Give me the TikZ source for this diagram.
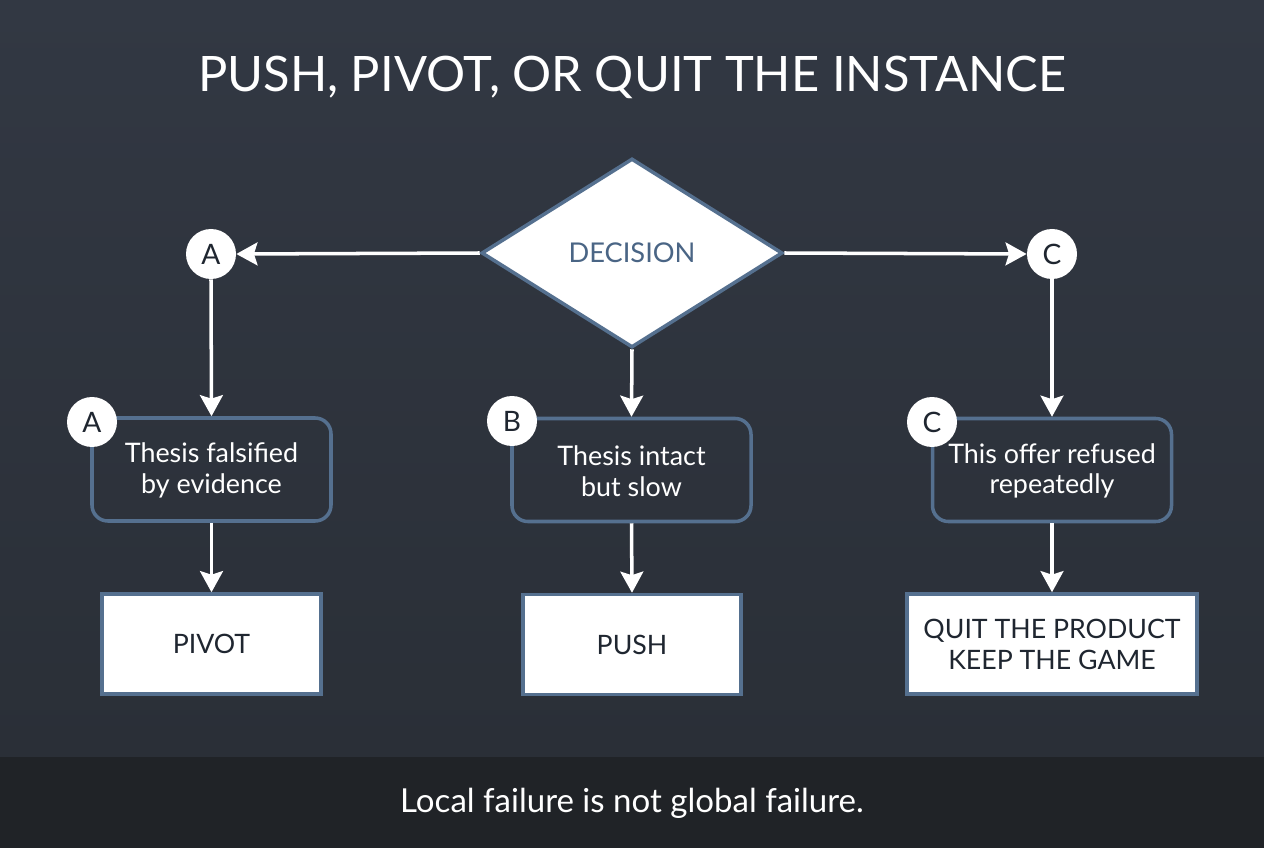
\documentclass[tikz,border=0pt]{standalone}
\usepackage{fontspec}
\setmainfont{Lato}
\usetikzlibrary{shapes.geometric, arrows.meta, positioning, calc}
\definecolor{bgtop}{HTML}{323843}
\definecolor{bgbot}{HTML}{2A2F37}
\definecolor{footbg}{HTML}{202327}
\definecolor{slate}{HTML}{55708F}
\definecolor{slatetxt}{HTML}{4A6585}
\definecolor{ink}{HTML}{1F2630}

\tikzset{
  flow/.style={draw=white, line width=2pt, -{Stealth[length=12pt,width=13pt,inset=2pt]}},
  decbox/.style={diamond, draw=slate, fill=white, line width=2pt, minimum width=6.02cm, minimum height=3.78cm, inner sep=0pt, font=\fontsize{15.5}{18}\selectfont, text=slatetxt},
  tagdot/.style={circle, fill=white, minimum size=1cm, inner sep=0pt, font=\fontsize{16}{18}\selectfont, text=ink},
  condbox/.style={draw=slate, rounded corners=9pt, line width=2pt, minimum width=4.78cm, minimum height=2.06cm, align=center, text=white, font=\fontsize{15.3}{17.6}\selectfont},
  resbox/.style={draw=slate, fill=white, line width=2pt, minimum height=2cm, align=center, text=ink, font=\fontsize{15.2}{17.6}\selectfont}
}

\begin{document}
\begin{tikzpicture}
        % Background and footer band
        \shade[top color=bgtop, bottom color=bgbot] (0,1.82) rectangle (25.28,16.96);
        \fill[footbg] (0,0) rectangle (25.28,1.82);
        \useasboundingbox (0,0) rectangle (25.28,16.96);
        % Title
        \node (title) at (12.64,15.42) {\fontsize{27.8}{32}\selectfont\color{white} PUSH, PIVOT, OR QUIT THE INSTANCE};
        % Decision
        \node[decbox] (dec) at (12.64,11.90) {DECISION};
        \node[tagdot] (tagA) at (4.22,11.88) {A};
        \node[tagdot] (tagC) at (21.04,11.88) {C};
        % Conditions
        \node[condbox] (condA) at (4.23,7.57) {\strut Thesis falsified\\by evidence};
        \node[condbox] (condB) at (12.63,7.56) {\strut Thesis intact\\but slow};
        \node[condbox] (condC) at (21.04,7.56) {\strut This offer refused\\repeatedly};
        \node[tagdot] (badgeA) at (1.84,8.52) {A};
        \node[tagdot] (badgeB) at (10.24,8.54) {B};
        \node[tagdot] (badgeC) at (18.64,8.52) {C};
        % Outcomes
        \node[resbox, minimum width=4.38cm] (resA) at (4.23,4.08) {PIVOT};
        \node[resbox, minimum width=4.36cm] (resB) at (12.64,4.07) {PUSH};
        \node[resbox, minimum width=5.80cm] (resC) at (21.04,4.08) {QUIT THE PRODUCT\\KEEP THE GAME};
        % Connectors
        \draw[flow] (dec.west) -- (tagA.east);
        \draw[flow] (dec.east) -- (tagC.west);
        \draw[flow] (tagA.south) -- (condA.north);
        \draw[flow] (dec.south) -- (condB.north);
        \draw[flow] (tagC.south) -- (condC.north);
        \draw[flow] (condA.south) -- (resA.north);
        \draw[flow] (condB.south) -- (resB.north);
        \draw[flow] (condC.south) -- (resC.north);
        % Footer
        \node (foot) at (12.64,0.90) {\fontsize{18.8}{22}\selectfont\color{white} Local failure is not global failure.};
    \end{tikzpicture}
\end{document}
